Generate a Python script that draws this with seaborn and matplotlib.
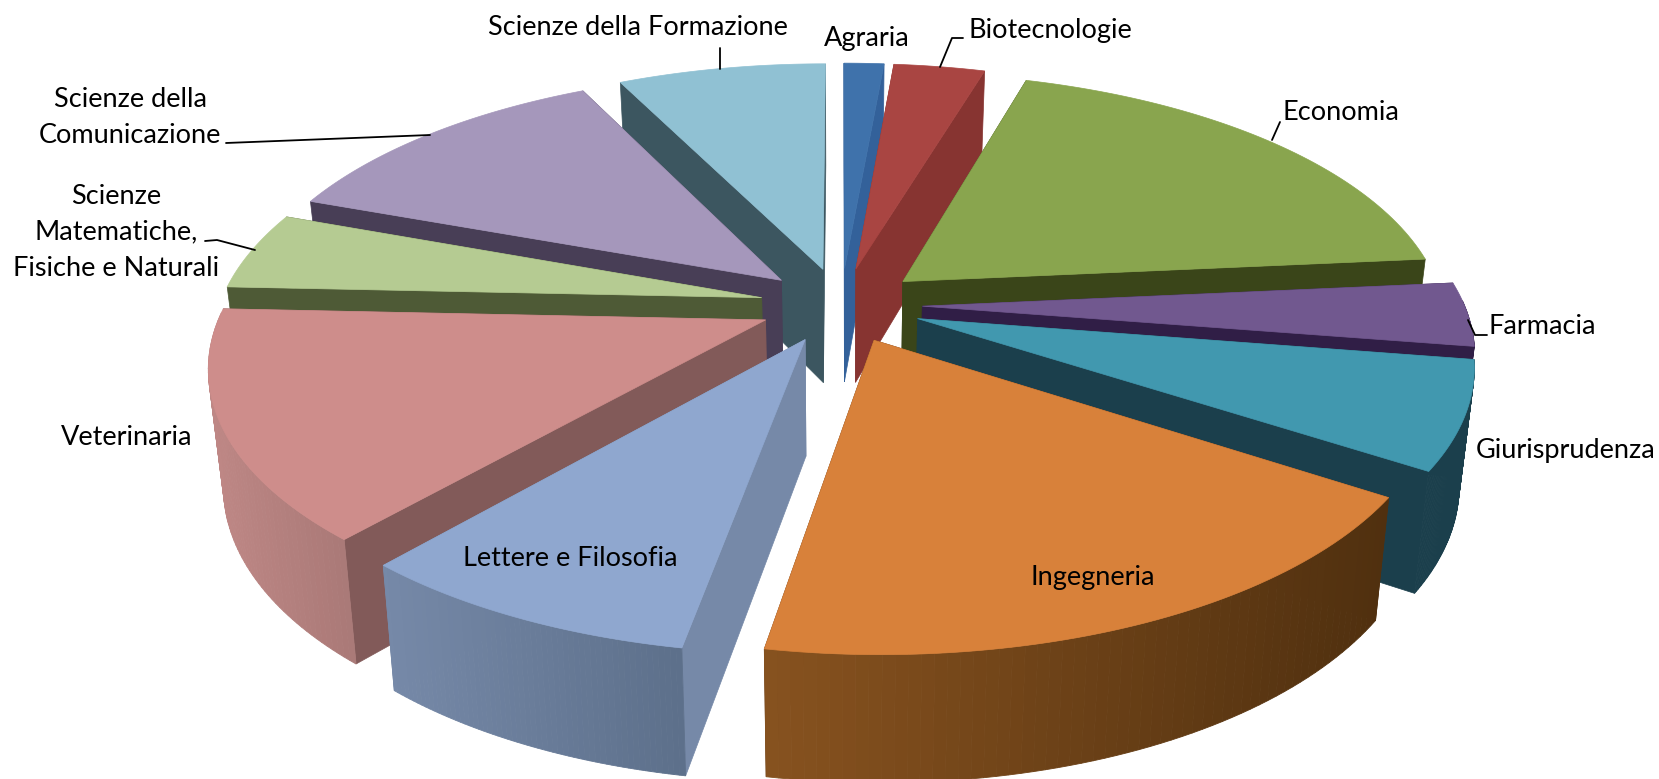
import numpy as np
import matplotlib
matplotlib.use("Agg")
import matplotlib.pyplot as plt
import seaborn as sns

# --- data (share of the pie, %) ---
faculties = [
    "Agraria", "Biotecnologie", "Economia", "Farmacia", "Giurisprudenza",
    "Ingegneria", "Lettere e Filosofia", "Veterinaria",
    "Scienze\nMatematiche,\nFisiche e Naturali",
    "Scienze della\nComunicazione", "Scienze della Formazione",
]
shares = [1.4, 3.2, 18.9, 4.0, 6.7, 18.6, 8.6, 14.3, 4.9, 12.1, 7.3]

# --- colours per slice ---
top_colors = ["#3F72AB", "#A94542", "#89A54E", "#71588F", "#4198AF", "#D8813A",
              "#8FA7CF", "#CE8D8B", "#B5CB92", "#A597BB", "#90C1D3"]
cut_colors = ["#33619A", "#873431", "#3A4519", "#301E46", "#1B3F4C", "#5A3315",
              "#7689A8", "#825A59", "#4E5A36", "#483E56", "#3C5660"]
wall_left = ["#33619A", "#873431", "#6D843E", "#301E46", "#1B3F4C", "#87521F",
             "#7689A8", "#BE8785", "#94A478", "#877C97", "#759CAA"]
wall_right = ["#2A5280", "#6E2A28", "#566A30", "#301E46", "#1B3F4C", "#50300F",
              "#5C6F8A", "#A87876", "#768360", "#6C6379", "#5E7D88"]

# --- geometry of the 3D view, in pixels of the output ---
CX, CY = 841, 305
RX, RY = 542, 250
PERSP = 0.164
DEPTH = 115
BOTTOM_SCALE = 0.976
EXPLODE = 0.15

# label: x, y centre of the text
label_pos = [(867, 38), (1050, 30), (1341, 112), (1542, 326), (1566, 450),
             (1093, 578), (570, 558), (127, 437), (116, 232), (130, 117), (638, 27)]
# leader lines
leaders = [
    [(963, 38), (952, 38), (940, 67)],
    [(1280, 122), (1272, 140)],
    [(1487, 335), (1475, 335), (1468, 320)],
    [(205, 241), (217, 240), (255, 250)],
    [(226, 143), (430, 135)],
    [(720, 48), (720, 69)],
]


def project(px, pz, lower=False):
    s = 1 / (1 - PERSP * pz)
    x = RX * px * s
    y = CY + RY * pz * s
    if lower:
        x = x * BOTTOM_SCALE
        y = y + DEPTH * (1 + 0.1 * pz)
    return CX + x, y


def slice_outline(start, stop, n=60):
    """Rim of one exploded slice in plane coordinates, angles clockwise from the back."""
    mid = (start + stop) / 2
    ox, oz = EXPLODE * np.sin(mid), -EXPLODE * np.cos(mid)
    t = np.linspace(start, stop, n)
    return (ox, oz), ox + np.sin(t), oz - np.cos(t), t


def draw_slice(ax, start, stop, i):
    (ox, oz), rx, rz, t = slice_outline(start, stop)

    # the two cut faces
    for ex, ez in [(rx[0], rz[0]), (rx[-1], rz[-1])]:
        xs = [project(ox, oz)[0], project(ex, ez)[0], project(ex, ez, True)[0], project(ox, oz, True)[0]]
        ys = [project(ox, oz)[1], project(ex, ez)[1], project(ex, ez, True)[1], project(ox, oz, True)[1]]
        ax.fill(xs, ys, color=cut_colors[i], lw=0.5)

    # outer wall, shaded in small strips from left to right (front half only)
    tx, ty = project(rx, rz)
    bx, by = project(rx, rz, True)
    left, right = np.array(matplotlib.colors.to_rgb(wall_left[i])), np.array(matplotlib.colors.to_rgb(wall_right[i]))
    lo, hi = min(tx.min(), bx.min()), max(tx.max(), bx.max())
    for k in range(len(rx) - 1):
        if np.cos(t[k]) > 0.02 and np.cos(t[k + 1]) > 0.02:
            continue
        f = ((tx[k] + tx[k + 1]) / 2 - lo) / max(hi - lo, 1)
        c = left + (right - left) * f
        ax.fill([tx[k], tx[k + 1], bx[k + 1], bx[k]], [ty[k], ty[k + 1], by[k + 1], by[k]], color=c, lw=0.6)

    # top face
    ax0, ay0 = project(ox, oz)
    ax.fill(np.r_[ax0, tx], np.r_[ay0, ty], color=top_colors[i], lw=0.5)


sns.set_theme(style="white")
plt.rcParams["font.family"] = ["Lato", "DejaVu Sans"]

fig = plt.figure(figsize=(16.59, 7.79), dpi=100)
ax = fig.add_axes([0, 0, 1, 1])
ax.set_xlim(0, 1659)
ax.set_ylim(779, 0)
ax.axis("off")

edges = np.r_[0, np.cumsum(shares)] / np.sum(shares) * 2 * np.pi
mids = (edges[:-1] + edges[1:]) / 2
# paint from the back of the pie to the front
order = np.argsort(-np.cos(mids))
for i in order:
    draw_slice(ax, edges[i], edges[i + 1], i)

for name, (x, y) in zip(faculties, label_pos):
    ax.text(x, y, name, ha="center", va="center", fontsize=19.5, color="black", linespacing=1.55)

for line in leaders:
    xs, ys = zip(*line)
    ax.plot(xs, ys, color="black", lw=1.3)

sns.despine(ax=ax, left=True, bottom=True)
fig.savefig("out.png", dpi=100, facecolor="white")
